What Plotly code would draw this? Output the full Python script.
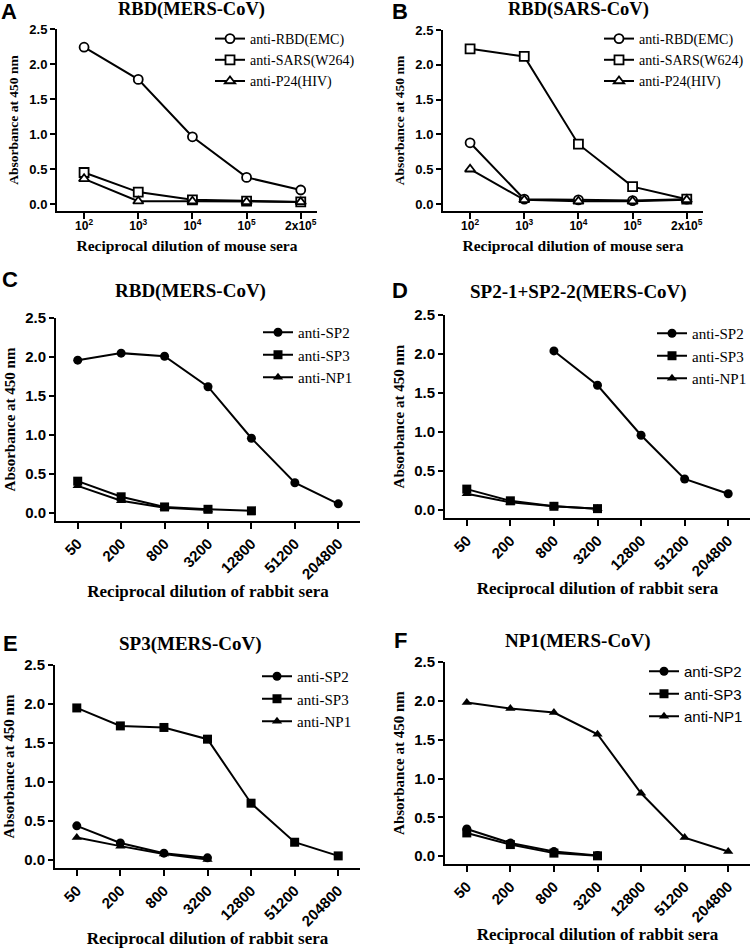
import plotly.graph_objects as go

W, H = 752, 949

# ---------------- data ----------------
mouse_dilutions = ["10<sup>2</sup>", "10<sup>3</sup>", "10<sup>4</sup>", "10<sup>5</sup>", "2x10<sup>5</sup>"]
rabbit_dilutions = ["50", "200", "800", "3200", "12800", "51200", "204800"]

# Panel A: RBD(MERS-CoV), mouse sera
a_anti_rbd_emc = [2.24, 1.78, 0.96, 0.38, 0.20]
a_anti_sars_w264 = [0.45, 0.17, 0.06, 0.04, 0.03]
a_anti_p24_hiv = [0.36, 0.04, 0.04, 0.03, 0.03]

# Panel B: RBD(SARS-CoV), mouse sera
b_anti_rbd_emc = [0.88, 0.07, 0.06, 0.05, 0.07]
b_anti_sars_w624 = [2.23, 2.12, 0.86, 0.25, 0.07]
b_anti_p24_hiv = [0.50, 0.06, 0.04, 0.04, 0.06]

# Panel C: RBD(MERS-CoV), rabbit sera
c_anti_sp2 = [1.96, 2.05, 2.01, 1.62, 0.96, 0.39, 0.12]
c_anti_sp3 = [0.41, 0.21, 0.08, 0.05, 0.03, None, None]
c_anti_np1 = [0.35, 0.16, 0.07, 0.04, None, None, None]

# Panel D: SP2-1+SP2-2(MERS-CoV)
d_anti_sp2 = [None, None, 2.04, 1.60, 0.96, 0.40, 0.21]
d_anti_sp3 = [0.27, 0.12, 0.05, 0.02, None, None, None]
d_anti_np1 = [0.21, 0.10, 0.05, 0.02, None, None, None]

# Panel E: SP3(MERS-CoV)
e_anti_sp2 = [0.44, 0.22, 0.09, 0.03, None, None, None]
e_anti_sp3 = [1.95, 1.72, 1.70, 1.55, 0.73, 0.23, 0.055]
e_anti_np1 = [0.29, 0.18, 0.08, 0.01, None, None, None]

# Panel F: NP1(MERS-CoV)
f_anti_sp2 = [0.35, 0.17, 0.06, 0.01, None, None, None]
f_anti_sp3 = [0.30, 0.15, 0.04, 0.005, None, None, None]
f_anti_np1 = [1.98, 1.90, 1.85, 1.57, 0.81, 0.24, 0.06]

# ---------------- layout helpers ----------------
SERIF = "Liberation Serif"
SANS = "Liberation Sans"

def px_x(p):
    return p / W

def px_y(p):
    return 1 - p / H

MOUSE_STYLE = dict(title=18.5, ytick=13, xtick=12, ytitle=13.5, xtitle=15.5, legend=14,
                   xlabel_standoff=-3, xtitle_standoff=8, ytitle_standoff=8, angle=0, hollow=True)
RABBIT_STYLE = dict(title=19, ytick=15, xtick=15, ytitle=15, xtitle=17, legend=15,
                    xlabel_standoff=0, xtitle_standoff=1, ytitle_standoff=6, angle=-45, hollow=False)

panels = [
    dict(letter="A", title="RBD(MERS-CoV)", xr=(57, 317), yr=(29, 211), cats=mouse_dilutions,
         xrange=[-0.5, 4.3], xtitle="Reciprocal dilution of mouse sera", leg=(210, 23), legfont=SERIF,
         series=[("anti-RBD(EMC)", a_anti_rbd_emc, "circle"),
                 ("anti-SARS(W264)", a_anti_sars_w264, "square"),
                 ("anti-P24(HIV)", a_anti_p24_hiv, "triangle-up")],
         letterpos=(9, 12), titlepos=(191, 10), style=MOUSE_STYLE),
    dict(letter="B", title="RBD(SARS-CoV)", xr=(443, 703), yr=(30, 211), cats=mouse_dilutions,
         xrange=[-0.5, 4.3], xtitle="Reciprocal dilution of mouse sera", leg=(599, 23), legfont=SERIF,
         series=[("anti-RBD(EMC)", b_anti_rbd_emc, "circle"),
                 ("anti-SARS(W624)", b_anti_sars_w624, "square"),
                 ("anti-P24(HIV)", b_anti_p24_hiv, "triangle-up")],
         letterpos=(400, 12), titlepos=(578, 10), style=MOUSE_STYLE),
    dict(letter="C", title="RBD(MERS-CoV)", xr=(56, 360), yr=(318, 521), cats=rabbit_dilutions,
         xrange=[-0.5, 6.5], xtitle="Reciprocal dilution of rabbit sera", leg=(258, 316), legfont=SERIF,
         series=[("anti-SP2", c_anti_sp2, "circle"),
                 ("anti-SP3", c_anti_sp3, "square"),
                 ("anti-NP1", c_anti_np1, "triangle-up")],
         letterpos=(10, 280), titlepos=(190, 291), style=RABBIT_STYLE),
    dict(letter="D", title="SP2-1+SP2-2(MERS-CoV)", xr=(445, 750), yr=(315, 518), cats=rabbit_dilutions,
         xrange=[-0.5, 6.5], xtitle="Reciprocal dilution of rabbit sera", leg=(652, 317), legfont=SERIF,
         series=[("anti-SP2", d_anti_sp2, "circle"),
                 ("anti-SP3", d_anti_sp3, "square"),
                 ("anti-NP1", d_anti_np1, "triangle-up")],
         letterpos=(400, 290), titlepos=(578, 292), style=RABBIT_STYLE),
    dict(letter="E", title="SP3(MERS-CoV)", xr=(55, 360), yr=(665, 868), cats=rabbit_dilutions,
         xrange=[-0.5, 6.5], xtitle="Reciprocal dilution of rabbit sera", leg=(257, 660), legfont=SERIF,
         series=[("anti-SP2", e_anti_sp2, "circle"),
                 ("anti-SP3", e_anti_sp3, "square"),
                 ("anti-NP1", e_anti_np1, "triangle-up")],
         letterpos=(10, 643), titlepos=(190, 644), style=RABBIT_STYLE),
    dict(letter="F", title="NP1(MERS-CoV)", xr=(445, 750), yr=(662, 864), cats=rabbit_dilutions,
         xrange=[-0.5, 6.5], xtitle="Reciprocal dilution of rabbit sera", leg=(644, 655), legfont=SANS,
         series=[("anti-SP2", f_anti_sp2, "circle"),
                 ("anti-SP3", f_anti_sp3, "square"),
                 ("anti-NP1", f_anti_np1, "triangle-up")],
         letterpos=(400, 640), titlepos=(578, 641), style=RABBIT_STYLE),
]

fig = go.Figure()
annotations = []
layout_updates = {}

for i, p in enumerate(panels):
    n = i + 1
    s = p["style"]
    xa = "x" if n == 1 else f"x{n}"
    ya = "y" if n == 1 else f"y{n}"
    legname = "legend" if n == 1 else f"legend{n}"
    for name, vals, sym in p["series"]:
        fig.add_trace(go.Scatter(
            x=p["cats"], y=vals, name=name, mode="lines+markers",
            xaxis=xa, yaxis=ya, legend=legname,
            line=dict(color="black", width=2),
            marker=dict(symbol=sym, size=9,
                        color="white" if s["hollow"] else "black",
                        line=dict(color="black", width=1.8 if s["hollow"] else 0)),
            connectgaps=False,
        ))
    xkey = "xaxis" if n == 1 else f"xaxis{n}"
    ykey = "yaxis" if n == 1 else f"yaxis{n}"
    layout_updates[xkey] = dict(
        domain=[px_x(p["xr"][0]), px_x(p["xr"][1])], anchor=ya, type="category",
        categoryorder="array", categoryarray=p["cats"],
        range=p["xrange"], showline=True, linecolor="black", linewidth=2,
        ticks="outside", ticklen=6, tickwidth=1.5, tickcolor="black",
        tickangle=s["angle"], showgrid=False, zeroline=False,
        ticklabelstandoff=s["xlabel_standoff"],
        tickfont=dict(family=SANS, size=s["xtick"], color="black", weight="bold"),
        title=dict(text=p["xtitle"], font=dict(family=SERIF, size=s["xtitle"], color="black", weight="bold"),
                   standoff=s["xtitle_standoff"]),
    )
    layout_updates[ykey] = dict(
        domain=[px_y(p["yr"][1]), px_y(p["yr"][0])], anchor=xa,
        range=[-0.1, 2.5], dtick=0.5, tick0=0, tickformat=".1f",
        showline=True, linecolor="black", linewidth=2,
        ticks="outside", ticklen=5, tickwidth=1.5, tickcolor="black",
        showgrid=False, zeroline=False,
        tickfont=dict(family=SANS, size=s["ytick"], color="black", weight="bold"),
        title=dict(text="Absorbance at 450 nm", font=dict(family=SERIF, size=s["ytitle"], color="black", weight="bold"),
                   standoff=s["ytitle_standoff"]),
    )
    layout_updates[legname] = dict(
        x=px_x(p["leg"][0]), y=px_y(p["leg"][1]), xanchor="left", yanchor="top",
        xref="paper", yref="paper",
        bgcolor="rgba(0,0,0,0)", borderwidth=0,
        font=dict(family=p["legfont"], size=s["legend"], color="black"),
    )
    annotations.append(dict(
        text=p["letter"], x=px_x(p["letterpos"][0]), y=px_y(p["letterpos"][1]),
        xref="paper", yref="paper", xanchor="center", yanchor="middle", showarrow=False,
        font=dict(family=SANS, size=22, color="black", weight="bold"),
    ))
    annotations.append(dict(
        text=p["title"], x=px_x(p["titlepos"][0]), y=px_y(p["titlepos"][1]),
        xref="paper", yref="paper", xanchor="center", yanchor="middle", showarrow=False,
        font=dict(family=SERIF, size=s["title"], color="black", weight="bold"),
    ))

fig.update_layout(
    width=W, height=H, autosize=False,
    margin=dict(l=0, r=0, t=0, b=0, autoexpand=False),
    paper_bgcolor="white", plot_bgcolor="white",
    showlegend=True,
    annotations=annotations,
    **layout_updates,
)

fig.write_html("out.html", config={"displayModeBar": False},
               post_script="document.body.style.margin='0';document.body.style.overflow='hidden';")
